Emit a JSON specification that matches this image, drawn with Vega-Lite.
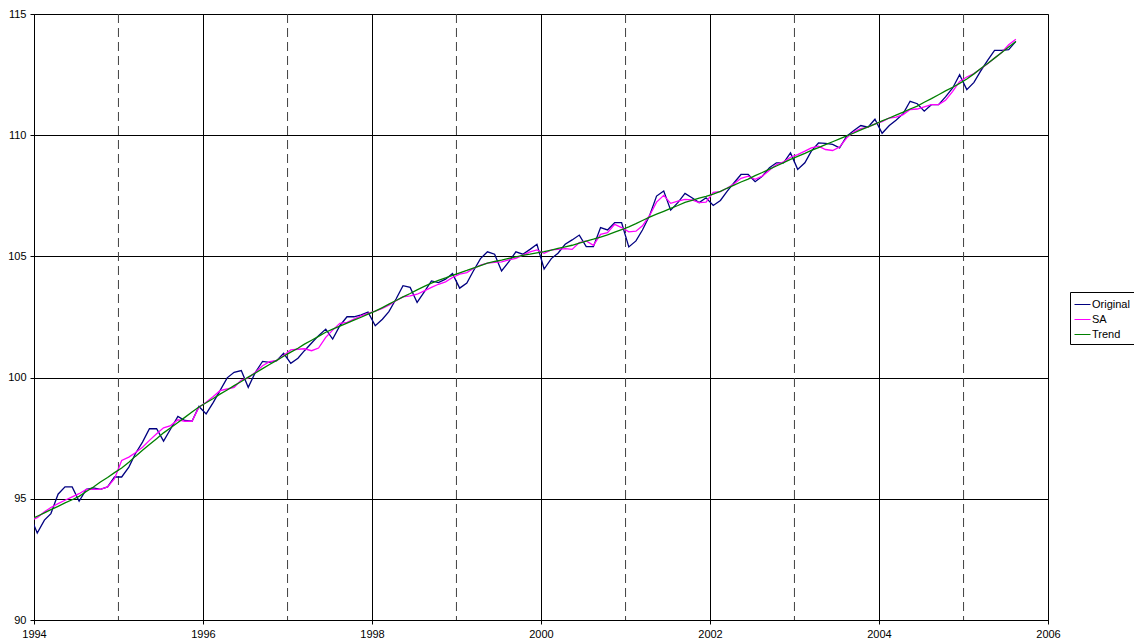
{
  "$schema": "https://vega.github.io/schema/vega-lite/v6.json",
  "width": 1014,
  "height": 606,
  "autosize": {"type": "none"},
  "padding": {"left": 34, "top": 14, "right": 86, "bottom": 21},
  "background": "white",
  "config": {"font": "Liberation Sans", "view": {"stroke": "#808080"}},
  "datasets": {
    "odd": [{"date": "1995-01-01"}, {"date": "1997-01-01"}, {"date": "1999-01-01"}, {"date": "2001-01-01"}, {"date": "2003-01-01"}, {"date": "2005-01-01"}],
    "series": [
      {"date": "1993-12-15", "Original": 94.31, "SA": 94.10, "Trend": 94.14},
      {"date": "1994-01-15", "Original": 93.59, "SA": 94.22, "Trend": 94.28},
      {"date": "1994-02-15", "Original": 94.12, "SA": 94.46, "Trend": 94.42},
      {"date": "1994-03-15", "Original": 94.39, "SA": 94.64, "Trend": 94.55},
      {"date": "1994-04-15", "Original": 95.19, "SA": 94.80, "Trend": 94.69},
      {"date": "1994-05-15", "Original": 95.49, "SA": 94.94, "Trend": 94.83},
      {"date": "1994-06-15", "Original": 95.49, "SA": 95.08, "Trend": 94.96},
      {"date": "1994-07-15", "Original": 94.90, "SA": 95.21, "Trend": 95.10},
      {"date": "1994-08-15", "Original": 95.39, "SA": 95.39, "Trend": 95.30},
      {"date": "1994-09-15", "Original": 95.45, "SA": 95.39, "Trend": 95.49},
      {"date": "1994-10-15", "Original": 95.39, "SA": 95.39, "Trend": 95.69},
      {"date": "1994-11-15", "Original": 95.49, "SA": 95.49, "Trend": 95.88},
      {"date": "1994-12-15", "Original": 95.90, "SA": 95.83, "Trend": 96.08},
      {"date": "1995-01-15", "Original": 95.90, "SA": 96.58, "Trend": 96.27},
      {"date": "1995-02-15", "Original": 96.31, "SA": 96.72, "Trend": 96.51},
      {"date": "1995-03-15", "Original": 96.86, "SA": 96.90, "Trend": 96.75},
      {"date": "1995-04-15", "Original": 97.34, "SA": 97.13, "Trend": 97.00},
      {"date": "1995-05-15", "Original": 97.89, "SA": 97.41, "Trend": 97.24},
      {"date": "1995-06-15", "Original": 97.89, "SA": 97.68, "Trend": 97.48},
      {"date": "1995-07-15", "Original": 97.38, "SA": 97.93, "Trend": 97.72},
      {"date": "1995-08-15", "Original": 97.89, "SA": 98.02, "Trend": 97.93},
      {"date": "1995-09-15", "Original": 98.40, "SA": 98.26, "Trend": 98.15},
      {"date": "1995-10-15", "Original": 98.23, "SA": 98.20, "Trend": 98.36},
      {"date": "1995-11-15", "Original": 98.20, "SA": 98.20, "Trend": 98.58},
      {"date": "1995-12-15", "Original": 98.81, "SA": 98.78, "Trend": 98.79},
      {"date": "1996-01-15", "Original": 98.50, "SA": 98.98, "Trend": 98.96},
      {"date": "1996-02-15", "Original": 98.98, "SA": 99.22, "Trend": 99.14},
      {"date": "1996-03-15", "Original": 99.46, "SA": 99.46, "Trend": 99.32},
      {"date": "1996-04-15", "Original": 99.99, "SA": 99.53, "Trend": 99.49},
      {"date": "1996-05-15", "Original": 100.22, "SA": 99.60, "Trend": 99.67},
      {"date": "1996-06-15", "Original": 100.29, "SA": 99.90, "Trend": 99.84},
      {"date": "1996-07-15", "Original": 99.60, "SA": 99.99, "Trend": 100.02},
      {"date": "1996-08-15", "Original": 100.22, "SA": 100.22, "Trend": 100.19},
      {"date": "1996-09-15", "Original": 100.67, "SA": 100.49, "Trend": 100.37},
      {"date": "1996-10-15", "Original": 100.63, "SA": 100.66, "Trend": 100.54},
      {"date": "1996-11-15", "Original": 100.70, "SA": 100.70, "Trend": 100.71},
      {"date": "1996-12-15", "Original": 101.00, "SA": 100.91, "Trend": 100.88},
      {"date": "1997-01-15", "Original": 100.59, "SA": 101.14, "Trend": 101.05},
      {"date": "1997-02-15", "Original": 100.80, "SA": 101.17, "Trend": 101.21},
      {"date": "1997-03-15", "Original": 101.11, "SA": 101.19, "Trend": 101.38},
      {"date": "1997-04-15", "Original": 101.43, "SA": 101.11, "Trend": 101.54},
      {"date": "1997-05-15", "Original": 101.73, "SA": 101.22, "Trend": 101.70},
      {"date": "1997-06-15", "Original": 102.00, "SA": 101.66, "Trend": 101.87},
      {"date": "1997-07-15", "Original": 101.59, "SA": 101.96, "Trend": 102.00},
      {"date": "1997-08-15", "Original": 102.14, "SA": 102.24, "Trend": 102.12},
      {"date": "1997-09-15", "Original": 102.51, "SA": 102.28, "Trend": 102.25},
      {"date": "1997-10-15", "Original": 102.51, "SA": 102.41, "Trend": 102.37},
      {"date": "1997-11-15", "Original": 102.59, "SA": 102.55, "Trend": 102.49},
      {"date": "1997-12-15", "Original": 102.70, "SA": 102.65, "Trend": 102.62},
      {"date": "1998-01-15", "Original": 102.14, "SA": 102.74, "Trend": 102.74},
      {"date": "1998-02-15", "Original": 102.41, "SA": 102.85, "Trend": 102.89},
      {"date": "1998-03-15", "Original": 102.72, "SA": 102.99, "Trend": 103.03},
      {"date": "1998-04-15", "Original": 103.24, "SA": 103.17, "Trend": 103.18},
      {"date": "1998-05-15", "Original": 103.79, "SA": 103.33, "Trend": 103.33},
      {"date": "1998-06-15", "Original": 103.72, "SA": 103.37, "Trend": 103.47},
      {"date": "1998-07-15", "Original": 103.10, "SA": 103.44, "Trend": 103.62},
      {"date": "1998-08-15", "Original": 103.54, "SA": 103.58, "Trend": 103.76},
      {"date": "1998-09-15", "Original": 103.99, "SA": 103.72, "Trend": 103.90},
      {"date": "1998-10-15", "Original": 103.92, "SA": 103.85, "Trend": 104.01},
      {"date": "1998-11-15", "Original": 104.06, "SA": 103.95, "Trend": 104.11},
      {"date": "1998-12-15", "Original": 104.29, "SA": 104.13, "Trend": 104.22},
      {"date": "1999-01-15", "Original": 103.69, "SA": 104.27, "Trend": 104.32},
      {"date": "1999-02-15", "Original": 103.90, "SA": 104.33, "Trend": 104.42},
      {"date": "1999-03-15", "Original": 104.40, "SA": 104.50, "Trend": 104.52},
      {"date": "1999-04-15", "Original": 104.91, "SA": 104.64, "Trend": 104.62},
      {"date": "1999-05-15", "Original": 105.19, "SA": 104.72, "Trend": 104.72},
      {"date": "1999-06-15", "Original": 105.09, "SA": 104.75, "Trend": 104.79},
      {"date": "1999-07-15", "Original": 104.40, "SA": 104.77, "Trend": 104.85},
      {"date": "1999-08-15", "Original": 104.77, "SA": 104.86, "Trend": 104.92},
      {"date": "1999-09-15", "Original": 105.19, "SA": 104.92, "Trend": 104.98},
      {"date": "1999-10-15", "Original": 105.09, "SA": 105.05, "Trend": 105.04},
      {"date": "1999-11-15", "Original": 105.29, "SA": 105.19, "Trend": 105.09},
      {"date": "1999-12-15", "Original": 105.50, "SA": 105.27, "Trend": 105.15},
      {"date": "2000-01-15", "Original": 104.48, "SA": 105.13, "Trend": 105.20},
      {"date": "2000-02-15", "Original": 104.91, "SA": 105.27, "Trend": 105.26},
      {"date": "2000-03-15", "Original": 105.13, "SA": 105.29, "Trend": 105.33},
      {"date": "2000-04-15", "Original": 105.50, "SA": 105.32, "Trend": 105.39},
      {"date": "2000-05-15", "Original": 105.68, "SA": 105.29, "Trend": 105.46},
      {"date": "2000-06-15", "Original": 105.88, "SA": 105.57, "Trend": 105.55},
      {"date": "2000-07-15", "Original": 105.40, "SA": 105.64, "Trend": 105.63},
      {"date": "2000-08-15", "Original": 105.40, "SA": 105.46, "Trend": 105.71},
      {"date": "2000-09-15", "Original": 106.19, "SA": 105.91, "Trend": 105.80},
      {"date": "2000-10-15", "Original": 106.09, "SA": 105.98, "Trend": 105.89},
      {"date": "2000-11-15", "Original": 106.39, "SA": 106.32, "Trend": 106.00},
      {"date": "2000-12-15", "Original": 106.39, "SA": 106.19, "Trend": 106.10},
      {"date": "2001-01-15", "Original": 105.39, "SA": 106.01, "Trend": 106.22},
      {"date": "2001-02-15", "Original": 105.64, "SA": 106.04, "Trend": 106.35},
      {"date": "2001-03-15", "Original": 106.09, "SA": 106.26, "Trend": 106.48},
      {"date": "2001-04-15", "Original": 106.69, "SA": 106.69, "Trend": 106.62},
      {"date": "2001-05-15", "Original": 107.49, "SA": 107.24, "Trend": 106.74},
      {"date": "2001-06-15", "Original": 107.70, "SA": 107.52, "Trend": 106.86},
      {"date": "2001-07-15", "Original": 106.91, "SA": 107.19, "Trend": 106.98},
      {"date": "2001-08-15", "Original": 107.22, "SA": 107.28, "Trend": 107.10},
      {"date": "2001-09-15", "Original": 107.60, "SA": 107.35, "Trend": 107.23},
      {"date": "2001-10-15", "Original": 107.42, "SA": 107.33, "Trend": 107.31},
      {"date": "2001-11-15", "Original": 107.22, "SA": 107.22, "Trend": 107.40},
      {"date": "2001-12-15", "Original": 107.42, "SA": 107.24, "Trend": 107.48},
      {"date": "2002-01-15", "Original": 107.10, "SA": 107.64, "Trend": 107.57},
      {"date": "2002-02-15", "Original": 107.31, "SA": 107.67, "Trend": 107.68},
      {"date": "2002-03-15", "Original": 107.67, "SA": 107.81, "Trend": 107.81},
      {"date": "2002-04-15", "Original": 108.04, "SA": 108.00, "Trend": 107.94},
      {"date": "2002-05-15", "Original": 108.38, "SA": 108.22, "Trend": 108.07},
      {"date": "2002-06-15", "Original": 108.38, "SA": 108.31, "Trend": 108.19},
      {"date": "2002-07-15", "Original": 108.08, "SA": 108.18, "Trend": 108.33},
      {"date": "2002-08-15", "Original": 108.31, "SA": 108.31, "Trend": 108.46},
      {"date": "2002-09-15", "Original": 108.66, "SA": 108.55, "Trend": 108.60},
      {"date": "2002-10-15", "Original": 108.86, "SA": 108.79, "Trend": 108.73},
      {"date": "2002-11-15", "Original": 108.86, "SA": 108.90, "Trend": 108.87},
      {"date": "2002-12-15", "Original": 109.27, "SA": 109.09, "Trend": 109.00},
      {"date": "2003-01-15", "Original": 108.59, "SA": 109.20, "Trend": 109.13},
      {"date": "2003-02-15", "Original": 108.86, "SA": 109.34, "Trend": 109.25},
      {"date": "2003-03-15", "Original": 109.34, "SA": 109.48, "Trend": 109.37},
      {"date": "2003-04-15", "Original": 109.68, "SA": 109.55, "Trend": 109.49},
      {"date": "2003-05-15", "Original": 109.66, "SA": 109.41, "Trend": 109.61},
      {"date": "2003-06-15", "Original": 109.62, "SA": 109.37, "Trend": 109.73},
      {"date": "2003-07-15", "Original": 109.48, "SA": 109.51, "Trend": 109.85},
      {"date": "2003-08-15", "Original": 109.96, "SA": 109.89, "Trend": 109.97},
      {"date": "2003-09-15", "Original": 110.19, "SA": 110.14, "Trend": 110.09},
      {"date": "2003-10-15", "Original": 110.40, "SA": 110.27, "Trend": 110.22},
      {"date": "2003-11-15", "Original": 110.33, "SA": 110.33, "Trend": 110.34},
      {"date": "2003-12-15", "Original": 110.66, "SA": 110.47, "Trend": 110.46},
      {"date": "2004-01-15", "Original": 110.08, "SA": 110.56, "Trend": 110.59},
      {"date": "2004-02-15", "Original": 110.40, "SA": 110.71, "Trend": 110.71},
      {"date": "2004-03-15", "Original": 110.62, "SA": 110.75, "Trend": 110.83},
      {"date": "2004-04-15", "Original": 110.89, "SA": 110.85, "Trend": 110.95},
      {"date": "2004-05-15", "Original": 111.40, "SA": 111.06, "Trend": 111.08},
      {"date": "2004-06-15", "Original": 111.30, "SA": 111.08, "Trend": 111.20},
      {"date": "2004-07-15", "Original": 110.99, "SA": 111.17, "Trend": 111.36},
      {"date": "2004-08-15", "Original": 111.26, "SA": 111.26, "Trend": 111.51},
      {"date": "2004-09-15", "Original": 111.26, "SA": 111.26, "Trend": 111.67},
      {"date": "2004-10-15", "Original": 111.58, "SA": 111.44, "Trend": 111.83},
      {"date": "2004-11-15", "Original": 111.95, "SA": 111.81, "Trend": 111.98},
      {"date": "2004-12-15", "Original": 112.50, "SA": 112.22, "Trend": 112.14},
      {"date": "2005-01-15", "Original": 111.88, "SA": 112.40, "Trend": 112.32},
      {"date": "2005-02-15", "Original": 112.18, "SA": 112.54, "Trend": 112.53},
      {"date": "2005-03-15", "Original": 112.63, "SA": 112.73, "Trend": 112.74},
      {"date": "2005-04-15", "Original": 113.09, "SA": 112.95, "Trend": 112.96},
      {"date": "2005-05-15", "Original": 113.50, "SA": 113.18, "Trend": 113.18},
      {"date": "2005-06-15", "Original": 113.50, "SA": 113.41, "Trend": 113.41},
      {"date": "2005-07-15", "Original": 113.53, "SA": 113.73, "Trend": 113.64},
      {"date": "2005-08-15", "Original": 113.87, "SA": 113.96, "Trend": 113.87}
    ]
  },
  "layer": [
    {
      "data": {"name": "odd"},
      "mark": {"type": "rule", "strokeDash": [9, 5], "color": "#404040", "strokeWidth": 1},
      "encoding": {
        "x": {"field": "date", "type": "temporal", "scale": {"type": "utc", "domain": [{"year": 1994, "month": 1, "date": 1, "utc": true}, {"year": 2006, "month": 1, "date": 1, "utc": true}]}}
      }
    },
    {
      "data": {"name": "series"},
      "transform": [{"fold": ["Original", "SA", "Trend"], "as": ["series", "value"]}],
      "mark": {"type": "line", "strokeWidth": 1.3, "clip": true},
      "encoding": {
        "x": {
          "field": "date", "type": "temporal",
          "scale": {"type": "utc", "domain": [{"year": 1994, "month": 1, "date": 1, "utc": true}, {"year": 2006, "month": 1, "date": 1, "utc": true}]},
          "axis": {
            "title": null,
            "values": [
              {"year": 1994, "month": 1, "date": 1, "utc": true},
              {"year": 1996, "month": 1, "date": 1, "utc": true},
              {"year": 1998, "month": 1, "date": 1, "utc": true},
              {"year": 2000, "month": 1, "date": 1, "utc": true},
              {"year": 2002, "month": 1, "date": 1, "utc": true},
              {"year": 2004, "month": 1, "date": 1, "utc": true},
              {"year": 2006, "month": 1, "date": 1, "utc": true}
            ],
            "format": "%Y", "formatType": "utc",
            "grid": true, "gridColor": "#000000", "gridOpacity": 1, "gridWidth": 1,
            "domainColor": "#000000", "tickColor": "#000000", "tickSize": 4,
            "labelFontSize": 11, "labelColor": "#000000", "labelPadding": 4,
            "labelFlush": false, "labelOverlap": false
          }
        },
        "y": {
          "field": "value", "type": "quantitative",
          "scale": {"domain": [90, 115], "nice": false, "zero": false},
          "axis": {
            "title": null, "values": [90, 95, 100, 105, 110, 115],
            "grid": true, "gridColor": "#000000", "gridOpacity": 1, "gridWidth": 1,
            "domainColor": "#000000", "tickColor": "#000000", "tickSize": 4,
            "labelFontSize": 11, "labelColor": "#000000", "labelPadding": 4,
            "labelFlush": false, "labelOverlap": false
          }
        },
        "color": {
          "field": "series", "type": "nominal",
          "scale": {"domain": ["Original", "SA", "Trend"], "range": ["#000080", "#FF00FF", "#008000"]},
          "legend": {
            "title": null, "orient": "none", "legendX": 1036, "legendY": 278,
            "strokeColor": "#000000", "fillColor": "#ffffff", "padding": 4,
            "symbolType": "stroke", "symbolSize": 256, "symbolStrokeWidth": 1,
            "labelFontSize": 11, "labelColor": "#000000", "labelOffset": 1, "rowPadding": 1
          }
        }
      }
    }
  ]
}
